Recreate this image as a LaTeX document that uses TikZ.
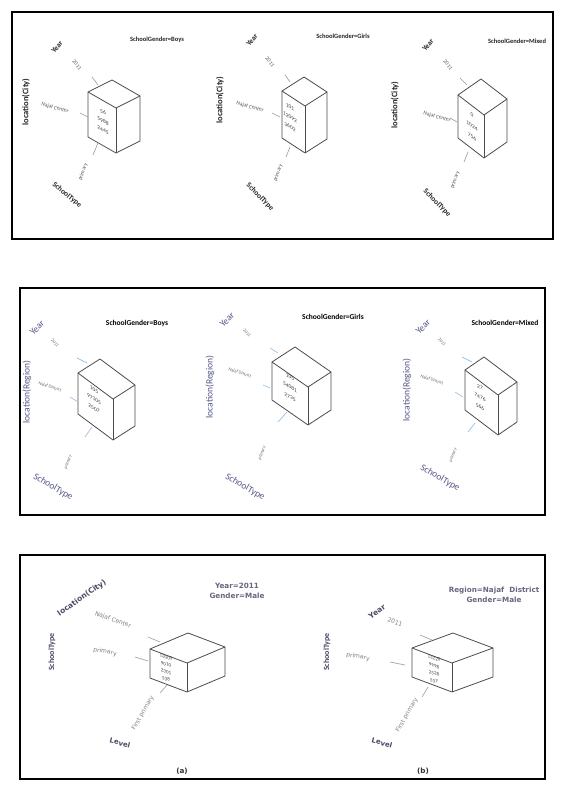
\documentclass[tikz,border=0pt]{standalone}
\usepackage{fontspec}
\setmainfont{Carlito}
\newfontfamily\dvs{DejaVu Sans}
\usetikzlibrary{calc}
\newcommand\fsz[1]{\fontsize{#1}{#1}\selectfont}
% #1 name, #2 front-top point, #3 vector to left corner, #4 vector to right corner, #5 height
\newcommand\mycube[5]{%
  \coordinate (#1F) at (#2);
  \coordinate (#1A) at ($(#1F)+(#3)$);
  \coordinate (#1B) at ($(#1F)+(#4)$);
  \coordinate (#1K) at ($(#1A)+(#4)$);
  \coordinate (#1Fb) at ($(#1F)+(0,#5)$);
  \coordinate (#1Ab) at ($(#1A)+(0,#5)$);
  \coordinate (#1Bb) at ($(#1B)+(0,#5)$);
  \draw[cubeline] (#1A) -- (#1K) -- (#1B) -- (#1F) -- cycle;
  \draw[cubeline] (#1A) -- (#1Ab) -- (#1Fb) -- (#1Bb) -- (#1B);
  \draw[cubeline] (#1F) -- (#1Fb);
}
\definecolor{slate}{HTML}{55558A}
\definecolor{dpurp}{HTML}{4A4A66}
\definecolor{gpurp}{HTML}{66667E}
\definecolor{lblue}{HTML}{9CC2E5}
\definecolor{lgray}{HTML}{A0A8B4}
\tikzset{
  cubeline/.style={draw=black!70, line width=0.8pt, line join=round},
  frame/.style={draw=black, line width=1.3pt},
  axtop/.style={draw=black!40, line width=0.6pt},
  axmid/.style={draw=lblue, line width=0.7pt},
  axbot/.style={draw=lgray, line width=0.7pt},
  num/.style={inner sep=0pt, text=black!75, align=center},
  % top panel
  tbig/.style={inner sep=0pt, text=black!85, font=\bfseries\fsz{7.5}},
  tloc/.style={inner sep=0pt, text=black!85, font=\bfseries\fsz{8.5}},
  tsmall/.style={inner sep=0pt, text=black!65, font=\fsz{5.5}},
  tgen/.style={inner sep=0pt, text=black!85, font=\bfseries\fsz{6.5}},
  % middle panel
  mbig/.style={inner sep=0pt, text=slate, font=\fsz{9.5}},
  msmall/.style={inner sep=0pt, text=black!60, font=\fsz{4.5}},
  mgen/.style={inner sep=0pt, text=black, font=\bfseries\fsz{7.5}},
  % bottom panel
  bbig/.style={inner sep=0pt, text=dpurp, font=\dvs\bfseries\fsz{7}},
  bsmall/.style={inner sep=0pt, text=black!50, font=\dvs\fsz{6}},
  bgen/.style={inner sep=0pt, text=gpurp, font=\dvs\bfseries\fontsize{7.2}{9.5}\selectfont, align=center},
}
\begin{document}
\begin{tikzpicture}[x=1pt,y=-1pt]
\useasboundingbox (0,0) rectangle (566,791);
\fill[white] (0,0) rectangle (566,791);

% ---------------- frames
\draw[frame] (12,12) rectangle (553,239);
\draw[frame] (20,288) rectangle (545,515);
\draw[frame] (20,555) rectangle (545,779);

% ================= TOP PANEL =================
% cube 1
\mycube{ta}{116,108}{-28,-16}{24,-12}{45}
\node[num, yslant=-0.57, font=\fontsize{5.5}{9}\selectfont] (tanum) at (103,121) {56\\5988\\2445};
\node[tgen] (tag) at (157,40) {SchoolGender=Boys};
\node[tbig, rotate=50] (tay) at (57,47) {Year};
\node[tsmall, rotate=-50] (tay1) at (77,65) {2011};
\node[tloc, rotate=90] (tal) at (26,102) {location(City)};
\node[tsmall, rotate=-15] (tan) at (55,108) {Najaf Center};
\node[tsmall, rotate=70] (tap) at (83,172) {primary};
\node[tbig, rotate=-40] (tas) at (67,195) {SchoolType};
\coordinate (tay0) at (92,77); \coordinate (tay2) at (98,85);
\coordinate (tan0) at (80,113); \coordinate (tan2) at (88,117);
\coordinate (tap0) at (98,143); \coordinate (tap2) at (93,155);
\draw[axtop] (tay0) -- (tay2);
\draw[axtop] (tan0) -- (tan2);
\draw[axtop] (tap0) -- (tap2);

% cube 2
\mycube{tb}{305,106}{-23,-15}{22,-14}{47}
\node[num, yslant=-0.65, font=\fontsize{5.5}{10}\selectfont] (tbnum) at (290,117) {101\\12092\\3602};
\node[tgen] (tbg) at (343,36) {SchoolGender=Girls};
\node[tbig, rotate=50] (tby) at (252,40) {Year};
\node[tsmall, rotate=-50] (tby1) at (270,62) {2011};
\node[tloc, rotate=90] (tbl) at (220,100) {location(City)};
\node[tsmall, rotate=-15] (tbn) at (250,107) {Najaf Center};
\node[tsmall, rotate=70] (tbp) at (278,173) {primary};
\node[tbig, rotate=-45] (tbs) at (260,197) {SchoolType};
\coordinate (tby0) at (285,75); \coordinate (tby2) at (290,82);
\coordinate (tbn0) at (272,113); \coordinate (tbn2) at (280,117);
\coordinate (tbp0) at (290,147); \coordinate (tbp2) at (286,157);
\draw[axtop] (tby0) -- (tby2);
\draw[axtop] (tbn0) -- (tbn2);
\draw[axtop] (tbp0) -- (tbp2);

% cube 3
\mycube{tc}{484,115}{-26,-20}{23,-16}{43}
\node[num, yslant=-0.77, font=\fontsize{5.5}{11}\selectfont] (tcnum) at (472,126) {0\\1024\\756};
\node[tgen] (tcg) at (517,41) {SchoolGender=Mixed};
\node[tbig, rotate=50] (tcy) at (428,45) {Year};
\node[tsmall, rotate=-50] (tcy1) at (448,65) {2011};
\node[tloc, rotate=90] (tcl) at (395,105) {location(City)};
\node[tsmall, rotate=-15] (tcn) at (437,117) {Najaf Center};
\node[tsmall, rotate=70] (tcp) at (455,180) {primary};
\node[tbig, rotate=-45] (tcs) at (437,203) {SchoolType};
\coordinate (tcy0) at (460,78); \coordinate (tcy2) at (467,85);
\coordinate (tcn0) at (450,118); \coordinate (tcn2) at (457,122);
\coordinate (tcp0) at (468,152); \coordinate (tcp2) at (464,162);
\draw[axtop] (tcy0) -- (tcy2);
\draw[axtop] (tcn0) -- (tcn2);
\draw[axtop] (tcp0) -- (tcp2);

% ================= MIDDLE PANEL =================
% cube 1
\mycube{ma}{113,399}{-35,-26}{22,-14}{41}
\node[num, yslant=-0.6, font=\fontsize{5.5}{9.5}\selectfont] (manum) at (94,399) {105\\97105\\2507};
\node[mgen] (mag) at (137,323) {SchoolGender=Boys};
\node[mbig, rotate=45] (may) at (37,328) {Year};
\node[msmall, rotate=-45] (may1) at (55,343) {2011};
\node[mbig, rotate=90] (mal) at (27,392) {location(Region)};
\node[msmall, rotate=-20] (man) at (50,387) {Najaf District};
\node[msmall, rotate=70] (map) at (68,462) {primary};
\node[mbig, rotate=-30] (mas) at (53,487) {SchoolType};
\coordinate (may0) at (77,358); \coordinate (may2) at (87,363);
\coordinate (man0) at (70,397); \coordinate (man2) at (78,402);
\coordinate (map0) at (92,427); \coordinate (map2) at (85,437);
\draw[axmid] (may0) -- (may2);
\draw[axmid] (man0) -- (man2);
\draw[axmid] (map0) -- (map2);

% cube 2
\mycube{mb}{308,387}{-36,-25}{23,-15}{38}
\node[num, yslant=-0.6, font=\fontsize{5.5}{10}\selectfont] (mbnum) at (290,387) {105\\54081\\2735};
\node[mgen] (mbg) at (333,317) {SchoolGender=Girls};
\node[mbig, rotate=45] (mby) at (227,320) {Year};
\node[msmall, rotate=-45] (mby1) at (247,333) {2011};
\node[mbig, rotate=90] (mbl) at (210,387) {location(Region)};
\node[msmall, rotate=-20] (mbn) at (240,373) {Najaf District};
\node[msmall, rotate=70] (mbp) at (262,453) {primary};
\node[mbig, rotate=-30] (mbs) at (245,487) {SchoolType};
\coordinate (mby0) at (270,348); \coordinate (mby2) at (278,353);
\coordinate (mbn0) at (263,385); \coordinate (mbn2) at (270,388);
\coordinate (mbp0) at (287,412); \coordinate (mbp2) at (278,422);
\draw[axmid] (mby0) -- (mby2);
\draw[axmid] (mbn0) -- (mbn2);
\draw[axmid] (mbp0) -- (mbp2);

% cube 3
\mycube{mc}{498,395}{-33,-25}{19,-13}{40}
\node[num, yslant=-0.6, font=\fontsize{5.5}{10}\selectfont] (mcnum) at (480,397) {27\\7476\\566};
\node[mgen] (mcg) at (505,323) {SchoolGender=Mixed};
\node[mbig, rotate=45] (mcy) at (423,327) {Year};
\node[msmall, rotate=-45] (mcy1) at (442,342) {2011};
\node[mbig, rotate=90] (mcl) at (407,390) {location(Region)};
\node[msmall, rotate=-20] (mcn) at (432,380) {Najaf District};
\node[msmall, rotate=70] (mcp) at (453,455) {primary};
\node[mbig, rotate=-30] (mcs) at (440,478) {SchoolType};
\coordinate (mcy0) at (462,357); \coordinate (mcy2) at (472,362);
\coordinate (mcn0) at (455,392); \coordinate (mcn2) at (463,397);
\coordinate (mcp0) at (475,423); \coordinate (mcp2) at (468,432);
\draw[axmid] (mcy0) -- (mcy2);
\draw[axmid] (mcn0) -- (mcn2);
\draw[axmid] (mcp0) -- (mcp2);

% ================= BOTTOM PANEL =================
% (a)
\mycube{ba}{187,663}{-37,-14}{38,-16}{29}
\node[num, yslant=-0.3, font=\fontsize{5}{7.3}\selectfont] (banum) at (166,668) {12005\\9010\\2301\\538};
\node[bgen] (bag) at (237,591) {Year=2011\\Gender=Male};
\node[bbig, rotate=35, font=\dvs\bfseries\fsz{7.5}] (bal) at (82,598) {location(City)};
\node[bbig, rotate=90, font=\bfseries\fsz{8}] (bas) at (52,652) {SchoolType};
\node[bsmall, rotate=-20] (ban) at (113,620) {Najaf Center};
\node[bsmall, rotate=-10] (bap) at (105,652) {primary};
\node[bsmall, rotate=60] (baf) at (143,713) {First primary};
\node[bbig, rotate=-15] (bav) at (120,743) {Level};
\node[bgen, text=black!80] (bacap) at (182,771) {(a)};
\coordinate (ban0) at (148,637); \coordinate (ban2) at (160,642);
\coordinate (bap0) at (135,657); \coordinate (bap2) at (148,661);
\coordinate (baf0) at (167,685); \coordinate (baf2) at (160,693);
\draw[axbot] (ban0) -- (ban2);
\draw[axbot] (bap0) -- (bap2);
\draw[axbot] (baf0) -- (baf2);

% (b)
\mycube{bb}{452,663}{-40,-15}{41,-15}{29}
\node[num, yslant=-0.3, font=\fontsize{5}{7.6}\selectfont] (bbnum) at (434,669.5) {13220\\9998\\2528\\537};
\node[bgen] (bbg) at (494,595) {Region=Najaf~~District\\Gender=Male};
\node[bbig, rotate=35, font=\dvs\bfseries\fsz{7.5}] (bby) at (377,612) {Year};
\node[bsmall, rotate=-20] (bby1) at (395,622) {2011};
\node[bbig, rotate=90, font=\bfseries\fsz{8}] (bbs) at (327,652) {SchoolType};
\node[bsmall, rotate=-10] (bbp) at (358,657) {primary};
\node[bsmall, rotate=60] (bbf) at (407,715) {First primary};
\node[bbig, rotate=-15] (bbv) at (382,743) {Level};
\node[bgen, text=black!80] (bbcap) at (423,771) {(b)};
\coordinate (bby0) at (420,635); \coordinate (bby2) at (432,640);
\coordinate (bbp0) at (390,662); \coordinate (bbp2) at (405,665);
\coordinate (bbf0) at (428,687); \coordinate (bbf2) at (422,697);
\draw[axbot] (bby0) -- (bby2);
\draw[axbot] (bbp0) -- (bbp2);
\draw[axbot] (bbf0) -- (bbf2);
\end{tikzpicture}
\end{document}
